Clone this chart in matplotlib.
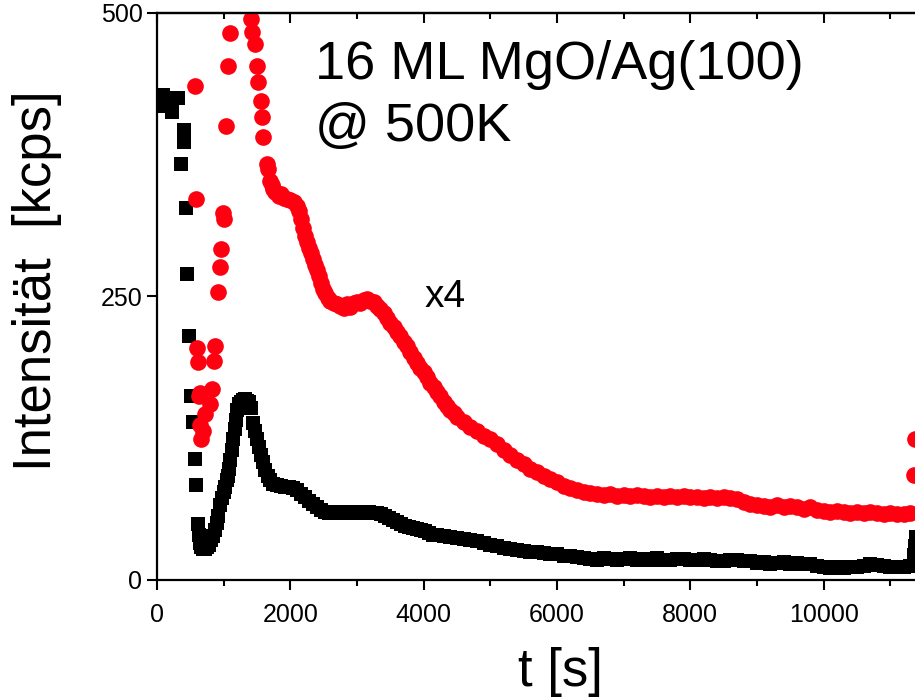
import matplotlib.pyplot as plt

plt.rcParams['font.family'] = ['Liberation Sans', 'DejaVu Sans']

# black squares: measured intensity
black_t = [90, 90, 225, 315, 225, 405, 405, 360, 435, 450, 480, 510, 540, 570, 585,
           615, 630, 645, 660, 690, 720, 750, 780, 810, 840, 870, 900, 915, 945, 975,
           1000, 1020, 1050, 1065, 1080, 1095, 1120, 1140, 1165, 1185, 1200, 1230, 1260,
           1290, 1320, 1350, 1380, 1410, 1440, 1470, 1500, 1530, 1560, 1590, 1620, 1660,
           1700, 1740, 1800, 1860, 1920, 1980, 2040, 2100, 2160, 2220, 2280, 2340, 2400,
           2460, 2520, 2580, 2640, 2700, 2760, 2820, 2880, 2940, 3000, 3060, 3120, 3180,
           3240, 3300, 3360, 3420, 3480, 3540, 3600, 3660, 3720, 3780, 3840, 3900, 3960,
           4020, 4080, 4140, 4200, 4300, 4400, 4500, 4600, 4700, 4800, 4900, 5000, 5100,
           5200, 5300, 5400, 5500, 5600, 5700, 5800, 5900, 6000, 6100, 6200, 6300, 6400,
           6500, 6600, 6700, 6800, 6900, 7000, 7100, 7200, 7300, 7400, 7500, 7600, 7700,
           7800, 7900, 8000, 8100, 8200, 8300, 8400, 8500, 8600, 8700, 8800, 8900, 9000,
           9100, 9200, 9300, 9400, 9500, 9600, 9700, 9800, 9900, 10000, 10100, 10200,
           10300, 10400, 10500, 10600, 10700, 10800, 10900, 11000, 11100, 11200, 11300,
           11350, 11370, 11390]
black_y = [428, 418, 425, 425, 413, 397, 386, 367, 328, 270, 215, 162, 139, 107, 84,
           49, 40, 33, 29, 27, 27, 29, 31, 35, 39, 44, 50, 56, 66, 72,
           78, 82, 88, 92, 98, 106, 115, 124, 133, 141, 150, 155, 157,
           159, 160, 158, 157, 152, 138, 131, 124, 117, 110, 104, 97, 92,
           88, 85, 84, 83, 82, 82, 81, 79, 76, 73, 70, 67, 64,
           62, 60, 59, 59, 60, 59, 60, 60, 59, 60, 60, 59, 60,
           59, 59, 58, 56, 55, 53, 51, 49, 48, 47, 46, 45, 44,
           43, 41, 40, 40, 39, 38, 37, 36, 35, 34, 32.5, 31, 30,
           28.5, 27, 26.5, 25.5, 25, 24.5, 24, 23, 22.5, 21.5, 21, 20, 19,
           18.5, 17.5, 19, 18.5, 17.5, 18.5, 19, 17.5, 18.5, 18, 19, 17.5, 17.5,
           18.5, 18.5, 17.5, 17.5, 18.5, 17.5, 16.5, 17, 18, 17.5, 17, 16.5, 15,
           15.5, 14.5, 15, 15.5, 14.5, 15, 14.5, 14, 12.5, 11, 10.5, 11.5,
           10.5, 11, 11.5, 12, 14, 13.5, 12, 11.5, 11, 11.5, 12,
           22, 30, 38]

# red circles: second signal, scaled x4
red_t = [570, 585, 600, 615, 630, 645, 645, 660, 690, 720, 795, 825, 855, 870,
         915, 945, 960, 990, 1005, 1035, 1065, 1095,
         1410, 1425, 1470, 1500, 1515, 1560, 1575, 1590, 1650, 1665, 1695, 1720, 1740,
         1770, 1800, 1830, 1860, 1900, 1950, 2000, 2050, 2100, 2130, 2160, 2190, 2220,
         2250, 2280, 2310, 2340, 2370, 2400, 2430, 2460, 2490, 2520, 2560, 2600, 2650,
         2700, 2750, 2800, 2850, 2900, 2950, 3000, 3050, 3100, 3150, 3200, 3250, 3300,
         3350, 3400, 3450, 3500, 3550, 3600, 3650, 3700, 3750, 3800, 3850, 3900, 3950,
         4000, 4050, 4100, 4150, 4200, 4250, 4300, 4350, 4400, 4450, 4500, 4600, 4700,
         4800, 4900, 5000, 5100, 5200, 5300, 5400, 5500, 5600, 5700, 5800, 5900, 6000,
         6100, 6200, 6300, 6400, 6500, 6600, 6700, 6800, 6900, 7000, 7100, 7200, 7300,
         7400, 7500, 7600, 7700, 7800, 7900, 8000, 8100, 8200, 8300, 8400, 8500, 8600,
         8700, 8800, 8900, 9000, 9100, 9200, 9300, 9400, 9500, 9600, 9700, 9800, 9900,
         10000, 10100, 10200, 10300, 10400, 10500, 10600, 10700, 10800, 10900, 11000,
         11100, 11200, 11300, 11350, 11370]
red_y = [436, 336, 205, 192, 162, 165, 137, 124, 131, 146, 155, 168, 193, 206,
         254, 276, 292, 324, 318, 400, 453, 482,
         495, 483, 473, 453, 439, 422, 408, 391, 367, 362, 352, 348, 345,
         342, 341, 339, 340, 337, 336, 335, 333, 330, 325, 318, 310, 303,
         298, 293, 288, 283, 278, 273, 268, 262, 257, 253, 249, 246, 244,
         243, 242, 240, 243, 241, 244, 245, 244, 247, 248, 246, 245, 242,
         239, 235, 231, 227, 223, 219, 215, 210, 206, 201, 196, 191, 187,
         183, 179, 174, 170, 166, 162, 157, 153, 150, 147, 144, 139, 135,
         131, 127, 124, 120, 115, 110, 106, 102, 98, 95, 92, 89, 86,
         83, 81, 79, 78, 77, 76, 75, 76, 74, 75, 74, 75, 74,
         73, 74, 73, 74, 73, 74, 73, 73, 72, 73, 72, 73, 72,
         71, 69, 67, 66, 65, 64, 66, 64, 65, 64, 63, 64, 62,
         61, 60, 61, 60, 59, 60, 59, 60, 59, 58, 59,
         58, 58, 59, 93, 124]

fig = plt.figure(figsize=(9.15, 6.98), dpi=100)
ax = fig.add_axes([0.1716, 0.1691, 0.8743, 0.8123])

ax.plot(black_t, black_y, 's', color='black', ms=10.5, mew=0)
ax.plot(red_t, red_y, 'o', color='#ff0010', ms=12, mew=0)

ax.set_xlim(0, 12000)
ax.set_ylim(0, 500)
ax.set_xticks(range(0, 12001, 2000))
ax.set_xticklabels(['0', '2000', '4000', '6000', '8000', '10000', ''])
ax.set_xticks(range(1000, 12000, 2000), minor=True)
ax.set_yticks([0, 250, 500])

for s in ax.spines.values():
    s.set_linewidth(1.6)
ax.spines['right'].set_visible(False)

ax.tick_params(axis='x', which='major', direction='out', length=7.5, width=1.5,
               labelsize=18, pad=9, top=False)
ax.tick_params(axis='x', which='minor', direction='out', length=4, width=1.5, top=False)
ax.tick_params(axis='y', which='major', direction='out', length=7.5, width=1.5,
               labelsize=18, pad=3)

# top axis ticks point inward
top = ax.secondary_xaxis('top')
top.set_xticks(range(0, 12001, 2000))
top.set_xticks(range(1000, 12000, 2000), minor=True)
top.tick_params(which='major', direction='in', length=7.5, width=1.5, labeltop=False)
top.tick_params(which='minor', direction='in', length=4, width=1.5)
top.spines['top'].set_linewidth(1.6)

ax.text(2370, 442, '16 ML MgO/Ag(100)', fontsize=39, va='baseline')
ax.text(2370, 387, '@ 500K', fontsize=39, va='baseline')
ax.text(4020, 241, 'x4', fontsize=28, va='baseline')

fig.text(560 / 915, 1 - 686 / 698, 't [s]', fontsize=38, ha='center', va='baseline')
fig.text(37 / 915, 1 - 281 / 698, 'Intensität  [kcps]', fontsize=38, rotation=90,
         ha='center', va='center')

plt.savefig('out.png', dpi=100)
